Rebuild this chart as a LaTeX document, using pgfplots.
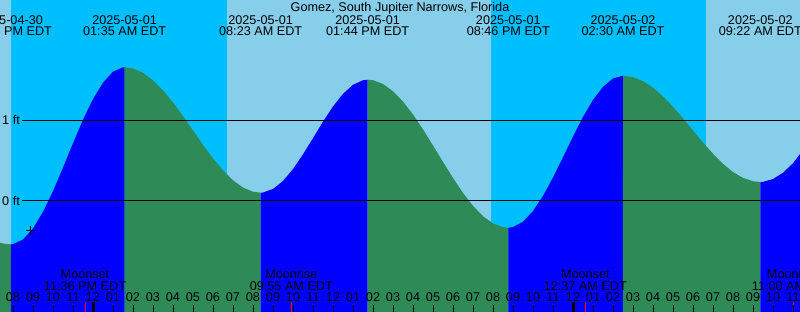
\documentclass[border=0pt]{standalone}
\usepackage{pgfplots}
\usepackage{pgfplotstable}
\pgfplotsset{compat=1.18}
\usepgfplotslibrary{fillbetween}
\usepackage{fontspec}
\setmainfont{Liberation Sans}
\definecolor{dayc}{RGB}{135,206,235}
\definecolor{nightc}{RGB}{0,191,255}
\definecolor{floodc}{RGB}{0,0,255}
\definecolor{ebbc}{RGB}{46,139,87}
\pgfplotstableread{
h v
-4.65 -0.517
-4.4 -0.531
-4.1 -0.537
-4.0 -0.535
-3.5 -0.477
-3.0 -0.340
-2.5 -0.135
-2.0 0.122
-1.5 0.414
-1.0 0.716
-0.5 1.007
0.0 1.263
0.5 1.466
1.0 1.603
1.5 1.656
1.583 1.657
2.0 1.643
2.5 1.588
3.0 1.496
3.5 1.372
4.0 1.221
4.5 1.052
5.0 0.874
5.5 0.696
6.0 0.528
6.5 0.379
7.0 0.257
7.5 0.166
8.0 0.115
8.383 0.103
8.5 0.105
9.0 0.149
9.5 0.248
10.0 0.396
10.5 0.578
11.0 0.779
11.5 0.983
12.0 1.171
12.5 1.328
13.0 1.440
13.5 1.496
13.733 1.503
14.0 1.497
14.5 1.450
15.0 1.360
15.5 1.232
16.0 1.072
16.5 0.887
17.0 0.688
17.5 0.484
18.0 0.285
18.5 0.100
19.0 -0.060
19.5 -0.189
20.0 -0.278
20.5 -0.324
20.767 -0.331
21.0 -0.323
21.5 -0.256
22.0 -0.124
22.5 0.063
23.0 0.291
23.5 0.542
24.0 0.799
24.5 1.042
25.0 1.253
25.5 1.415
26.0 1.518
26.5 1.553
27.0 1.536
27.5 1.485
28.0 1.404
28.5 1.296
29.0 1.167
29.5 1.024
30.0 0.874
30.5 0.725
31.0 0.585
31.5 0.461
32.0 0.359
32.5 0.286
33.0 0.245
33.367 0.235
33.5 0.237
34.0 0.272
34.5 0.350
35.0 0.467
35.35 0.582
}\tide
\begin{document}
\fontsize{12.7}{15}\selectfont
\begin{tikzpicture}
\begin{axis}[
  at={(0,0)}, anchor=south west,
  width=800bp, height=312bp, scale only axis,
  xmin=-4.65, xmax=35.35, ymin=-1.3755, ymax=2.4907,
  axis line style={draw=none},
  ytick=\empty,
  tick pos=left,
  xtick={-4,...,35},
  xticklabels={08,09,10,11,12,01,02,03,04,05,06,07,08,09,10,11,12,01,02,03,04,05,06,07,08,09,10,11,12,01,02,03,04,05,06,07,08,09,10,11},
  tick align=inside,
  major tick length=7bp,
  xtick style={black, line width=1bp},
  xticklabel style={anchor=base, yshift=10.5bp, inner sep=0pt},
  axis on top,
]
% day/night
\addplot[name path=top, draw=none] coordinates {(-4.65,2.4907) (35.35,2.4907)};
\addplot[name path=bot, draw=none] coordinates {(-4.65,-1.3755) (35.35,-1.3755)};
\addplot[fill=nightc, draw=none] fill between[of=top and bot];
\addplot[fill=dayc, draw=none] fill between[of=top and bot, soft clip={domain=-4.65:-4.1}];
\addplot[fill=dayc, draw=none] fill between[of=top and bot, soft clip={domain=6.7:19.9}];
\addplot[fill=dayc, draw=none] fill between[of=top and bot, soft clip={domain=30.65:35.35}];
% tide curve
\addplot[name path=tide, draw=none] table[x=h, y=v] {\tide};
\addplot[fill=ebbc, draw=none] fill between[of=tide and bot, soft clip={domain=-4.65:-4.1}];
\addplot[fill=floodc, draw=none] fill between[of=tide and bot, soft clip={domain=-4.1:1.583}];
\addplot[fill=ebbc, draw=none] fill between[of=tide and bot, soft clip={domain=1.583:8.383}];
\addplot[fill=floodc, draw=none] fill between[of=tide and bot, soft clip={domain=8.383:13.733}];
\addplot[fill=ebbc, draw=none] fill between[of=tide and bot, soft clip={domain=13.733:20.767}];
\addplot[fill=floodc, draw=none] fill between[of=tide and bot, soft clip={domain=20.767:26.5}];
\addplot[fill=ebbc, draw=none] fill between[of=tide and bot, soft clip={domain=26.5:33.367}];
\addplot[fill=floodc, draw=none] fill between[of=tide and bot, soft clip={domain=33.367:35.35}];
% level lines
\addplot[black, line width=1bp] coordinates {(-3.55,0) (35.35,0)};
\addplot[black, line width=1bp] coordinates {(-3.55,1) (35.35,1)};
% midnight ticks
\addplot[black, line width=3bp] coordinates {(0,-1.252) (0,-1.3755)};
\addplot[black, line width=3bp] coordinates {(24,-1.252) (24,-1.3755)};
% moon event ticks
\addplot[red, line width=1bp] coordinates {(-0.4,-1.252) (-0.4,-1.3755)};
\addplot[red, line width=1bp] coordinates {(9.917,-1.252) (9.917,-1.3755)};
\addplot[red, line width=1bp] coordinates {(24.617,-1.252) (24.617,-1.3755)};
\addplot[red, line width=1bp] coordinates {(35.0,-1.252) (35.0,-1.3755)};
% current time mark
\addplot[only marks, mark=+, mark size=4.5bp, line width=1bp, black] coordinates {(-3.15,-0.36)};
% labels
\node[anchor=base east, inner sep=0pt] at (axis cs:-3.65,0.942) {1 ft};
\node[anchor=base east, inner sep=0pt] at (axis cs:-3.65,-0.062) {0 ft};
\node[anchor=base, inner sep=0pt] at (axis cs:15.35,2.354) {Gomez, South Jupiter Narrows, Florida};
\node[anchor=base, inner sep=0pt] at (axis cs:-4.125,2.193) {2025-04-30};
\node[anchor=base, inner sep=0pt] at (axis cs:-4.125,2.045) {07:52 PM EDT};
\node[anchor=base, inner sep=0pt] at (axis cs:1.583,2.193) {2025-05-01};
\node[anchor=base, inner sep=0pt] at (axis cs:1.583,2.045) {01:35 AM EDT};
\node[anchor=base, inner sep=0pt] at (axis cs:8.383,2.193) {2025-05-01};
\node[anchor=base, inner sep=0pt] at (axis cs:8.383,2.045) {08:23 AM EDT};
\node[anchor=base, inner sep=0pt] at (axis cs:13.733,2.193) {2025-05-01};
\node[anchor=base, inner sep=0pt] at (axis cs:13.733,2.045) {01:44 PM EDT};
\node[anchor=base, inner sep=0pt] at (axis cs:20.767,2.193) {2025-05-01};
\node[anchor=base, inner sep=0pt] at (axis cs:20.767,2.045) {08:46 PM EDT};
\node[anchor=base, inner sep=0pt] at (axis cs:26.5,2.193) {2025-05-02};
\node[anchor=base, inner sep=0pt] at (axis cs:26.5,2.045) {02:30 AM EDT};
\node[anchor=base, inner sep=0pt] at (axis cs:33.367,2.193) {2025-05-02};
\node[anchor=base, inner sep=0pt] at (axis cs:33.367,2.045) {09:22 AM EDT};
\node[anchor=base, inner sep=0pt] at (axis cs:-0.4,-0.958) {Moonset};
\node[anchor=base, inner sep=0pt] at (axis cs:-0.4,-1.103) {11:36 PM EDT};
\node[anchor=base, inner sep=0pt] at (axis cs:9.917,-0.958) {Moonrise};
\node[anchor=base, inner sep=0pt] at (axis cs:9.917,-1.103) {09:55 AM EDT};
\node[anchor=base, inner sep=0pt] at (axis cs:24.617,-0.958) {Moonset};
\node[anchor=base, inner sep=0pt] at (axis cs:24.617,-1.103) {12:37 AM EDT};
\node[anchor=base, inner sep=0pt] at (axis cs:35.0,-0.958) {Moonrise};
\node[anchor=base, inner sep=0pt] at (axis cs:35.0,-1.103) {11:00 AM EDT};
\end{axis}
\pgfresetboundingbox
\path[use as bounding box] (0,0) rectangle (800bp,312bp);
\end{tikzpicture}
\end{document}
